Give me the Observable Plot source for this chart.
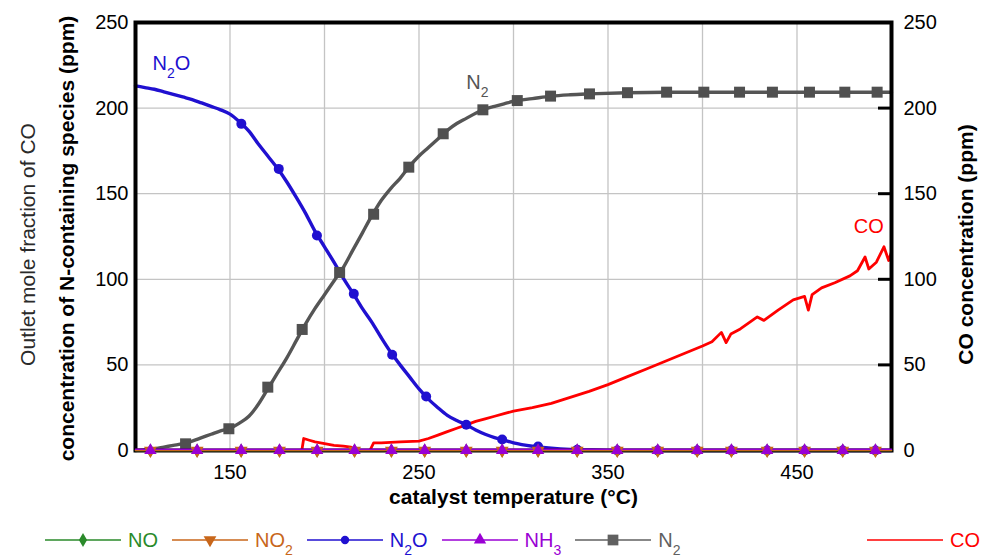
<!DOCTYPE html>
<html>
<head>
<meta charset="utf-8">
<script src="https://cdn.jsdelivr.net/npm/d3@7"></script>
<script src="https://cdn.jsdelivr.net/npm/@observablehq/plot@0.6"></script>
<style>
  html, body { margin: 0; padding: 0; background: #fff; }
  body { font-family: "Liberation Sans", Arial, sans-serif; }
  #wrap { position: relative; width: 994px; height: 558px; overflow: hidden; background: #fff; }
  #legend { position: absolute; left: 0; top: 522px; width: 994px; height: 36px;
            display: flex; align-items: center; box-sizing: border-box; padding-left: 45px; padding-right: 14px; }
  .item { display: flex; align-items: center; font-size: 20px; line-height: 20px; margin-right: 14px; }
  .item.last { margin-left: auto; margin-right: 0; }
  .item svg { display: block; margin-right: 7px; }
  .item sub { font-size: 14px; vertical-align: -8px; line-height: 0; }
</style>
</head>
<body>
<div id="wrap"><div id="chart"></div><div id="legend"></div></div>
<script>
// ---------------- data ----------------
// N2O concentration (ppm) vs catalyst temperature (°C)
const n2oTemp = [100,105,110,115,120,125,130,135,140,145,150,155,160,165,170,175,180,185,190,195,200,205,210,215,220,225,230,235,240,245,250,255,260,265,270,275,280,285,290,295,300,310,320,330,340,350,400,450,500];
const n2oPpm  = [213,212,211,209.5,208,206.5,205,203,201,199,196.5,192,186.5,179,172,165,157,148,138.5,128,119,110,100.5,92,83,75,66,57.5,50,43,36,30,25,20.5,17.5,15,12,9.5,7.5,6,4.5,2.5,1.3,0.6,0.3,0.1,0,0,0];
const n2oMarkTemp = [156,175.8,196,215.5,235.8,253.8,275,294,313,333.7,354.9,376.3,397.2,415.3,434.2,454,474.2,491.5];
const n2oMarkPpm  = [190.8,164.5,125.6,91.5,55.9,31.5,15,6.4,2.3,0.4,0,0,0,0,0,0,0,0];

// N2 concentration (ppm)
const n2Temp = [100,105,110,115,120,125,130,135,140,145,150,155,160,165,170,175,180,185,190,195,200,205,210,215,220,225,230,235,240,245,250,255,260,265,270,275,280,285,290,295,300,310,320,330,340,360,380,400,450,500];
const n2Ppm  = [0,0.5,1,2,3,4,5.5,7.5,9.5,11.5,13,16,20,27,36,45,54,64,74,83,91,99,107,117,127,137,146,153,159,166,172,177,182,187,191,194,197,199.5,201,202.5,204,205.5,207,207.8,208.3,209,209.3,209.3,209.3,209.3];
const n2MarkTemp = [126.5,149.4,170,188.2,208,226,244.6,262.8,283.8,302,319.6,340.2,360.3,381,400.7,419.6,437,456.6,475.3,492.4];
const n2MarkPpm  = [3.9,12.7,37,70.7,104,138,165.5,185,199,204.4,207,208.3,209,209.3,209.3,209.3,209.3,209.3,209.3,209.3];

// CO concentration (ppm, right axis)
const coTemp = [188,189,192,195,200,205,210,214,216,224,226,230,240,250,255,260,265,270,275,280,285,290,295,300,310,320,330,340,350,360,370,380,390,400,405,410,412.5,415,420,429,432.5,440,448,454,456,458,463,470,478,482,486,488,492,496,498.5,500];
const coPpm  = [0,7,6,5,4,3,2.5,2,0,0,4.5,4.5,5,5.5,7,9,11,13,15,17,18.5,20,21.5,23,25,27.5,31,34.5,38.5,43,47.5,52,56.5,61,63.5,69,63,68,71,78,76,82,88,90,82,91,95,98,102,105,113,106,110,119,111,116];

// NO, NO2, NH3 (all near zero)
const lowLineTemp = [100,500];
const noLinePpm  = [0,0];
const no2LinePpm = [0,0];
const nh3LinePpm = [0.8,0.8];
const lowMarkTemp = [107.9,132.6,155.9,176.2,196.1,215.9,235.4,253,275,294,313,333.7,354.9,376.3,397.2,415.3,434.2,454,474.2,491.5];
const noMarkPpm  = [0,0,0,0,0,0,0,0,0,0,0,0,0,0,0,0,0,0,0,0];
const no2MarkPpm = [0,0,0,0,0,0,0,0,0,0,0,0,0,0,0,0,0,0,0,0];
const nh3MarkPpm = [0,0,0,0,0,0,0,0,0,0,0,0,0,0,0,0,0,0,0,0];

// axes
const xDomain = [100,500];
const yDomain = [0,250];
const xTickValues = [150,250,350,450];
const xGridValues = [150,200,250,300,350,400,450];
const yTickValues = [0,50,100,150,200,250];
const yGridValues = [50,100,150,200];

// text
const xTitle = "catalyst temperature (°C)";
const yLeftTitle = "concentration of N-containing species (ppm)";
const yLeftOuterTitle = "Outlet mole fraction of CO";
const yRightTitle = "CO concentration (ppm)";

// in-plot series labels
const annoLabel = ["N₂O","N₂","CO"];
const annoTemp  = [109,275,480];
const annoPpm   = [226,215,130.5];

// legend entries
const legendNames = ["NO","NO₂","N₂O","NH₃","N₂","CO"];

// ---------------- styling ----------------
const C = {NO:"#2a8a2a", NO2:"#c8661a", N2O:"#2010d0", NH3:"#9a00d4", N2:"#555555", CO:"#ff0000"};
const annoColor = [C.N2O, "#555555", C.CO];

const rows = (xs, ys) => xs.map((t, i) => ({t, v: ys[i]}));
const n2oLine = rows(n2oTemp, n2oPpm), n2oMarks = rows(n2oMarkTemp, n2oMarkPpm);
const n2Line = rows(n2Temp, n2Ppm), n2Marks = rows(n2MarkTemp, n2MarkPpm);
const coLine = rows(coTemp, coPpm);
const noLine = rows(lowLineTemp, noLinePpm), no2Line = rows(lowLineTemp, no2LinePpm), nh3Line = rows(lowLineTemp, nh3LinePpm);
const noMarks = rows(lowMarkTemp, noMarkPpm), no2Marks = rows(lowMarkTemp, no2MarkPpm), nh3Marks = rows(lowMarkTemp, nh3MarkPpm);
const annos = annoLabel.map((s, i) => ({s, t: annoTemp[i], v: annoPpm[i], c: annoColor[i]}));

const W = 994, H = 522, ML = 135, MR = 103, MT = 22, MB = 72;
const innerW = W - ML - MR;

const chart = Plot.plot({
  width: W, height: H,
  marginLeft: ML, marginRight: MR, marginTop: MT, marginBottom: MB,
  style: {fontFamily: "'Liberation Sans', Arial, sans-serif", background: "#fff", color: "#000", overflow: "visible"},
  x: {domain: xDomain},
  y: {domain: yDomain},
  marks: [
    Plot.ruleX(xGridValues, {stroke: "#c4c4c4", strokeWidth: 1.3}),
    Plot.ruleY(yGridValues, {stroke: "#c4c4c4", strokeWidth: 1.3}),
    Plot.ruleY(yGridValues, {stroke: "#000", strokeWidth: 3, insetLeft: innerW - 13}),
    Plot.line(coLine, {x: "t", y: "v", stroke: C.CO, strokeWidth: 2.8}),
    Plot.line(n2oLine, {x: "t", y: "v", stroke: C.N2O, strokeWidth: 3.4, curve: "monotone-x"}),
    Plot.dot(n2oMarks, {x: "t", y: "v", symbol: "circle", r: 5, fill: C.N2O}),
    Plot.line(n2Line, {x: "t", y: "v", stroke: C.N2, strokeWidth: 3.4, curve: "monotone-x"}),
    Plot.dot(n2Marks, {x: "t", y: "v", symbol: "square", r: 6.2, fill: "#505050"}),
    Plot.frame({stroke: "#000", strokeWidth: 4}),
    Plot.line(noLine, {x: "t", y: "v", stroke: C.NO, strokeWidth: 1.5}),
    Plot.line(no2Line, {x: "t", y: "v", stroke: C.NO2, strokeWidth: 1.5}),
    Plot.line(nh3Line, {x: "t", y: "v", stroke: C.NH3, strokeWidth: 1.5}),
    Plot.dot(noMarks, {x: "t", y: "v", symbol: "diamond", r: 4.3, fill: C.NO}),
    Plot.dot(no2Marks, {x: "t", y: "v", symbol: "triangle", r: 4.8, rotate: 180, fill: C.NO2}),
    Plot.dot(nh3Marks, {x: "t", y: "v", symbol: "triangle", r: 4.6, fill: C.NH3}),
    Plot.text(annos, {x: "t", y: "v", text: "s", fill: "c", textAnchor: "start", fontSize: 20}),
    Plot.axisX({ticks: xTickValues, tickSize: 0, tickPadding: 14, fontSize: 20, label: null}),
    Plot.axisY({anchor: "left", ticks: yTickValues, tickSize: 0, tickPadding: 7, fontSize: 20, label: null}),
    Plot.axisY({anchor: "right", ticks: yTickValues, tickSize: 0, tickPadding: 12, fontSize: 20, label: null}),
    Plot.text([xTitle], {text: d => d, frameAnchor: "bottom", lineAnchor: "middle", textAnchor: "middle", dy: 47, fontSize: 21, fontWeight: "bold"}),
    Plot.text([yLeftTitle], {text: d => d, frameAnchor: "left", textAnchor: "middle", lineAnchor: "middle", rotate: -90, dx: -68, dy: 2, fontSize: 21, fontWeight: "bold"}),
    Plot.text([yLeftOuterTitle], {text: d => d, frameAnchor: "left", textAnchor: "middle", lineAnchor: "middle", rotate: -90, dx: -107, dy: 8, fontSize: 21, fill: "#2a2a2a"}),
    Plot.text([yRightTitle], {text: d => d, frameAnchor: "right", textAnchor: "middle", lineAnchor: "middle", rotate: -90, dx: 75, dy: 8, fontSize: 21, fontWeight: "bold"})
  ]
});
document.getElementById("chart").appendChild(chart);

// subscripts for chemical formulas inside the SVG
const subMap = {"₂": "2", "₃": "3"};
d3.select(chart).selectAll("text").each(function() {
  const s = this.textContent;
  if (!/[₂₃]/.test(s)) return;
  const el = d3.select(this);
  el.text(null);
  let shifted = false;
  s.split(/([₂₃])/).filter(Boolean).forEach(p => {
    if (subMap[p]) {
      el.append("tspan").attr("font-size", "14px").attr("dy", "8px").text(subMap[p]);
      shifted = true;
    } else {
      const t = el.append("tspan").text(p);
      if (shifted) { t.attr("dy", "-8px"); shifted = false; }
    }
  });
});

// legend (HTML, below the SVG)
const legendColors = [C.NO, C.NO2, C.N2O, C.NH3, "#606060", C.CO];
const legendSymbols = [d3.symbolDiamond, d3.symbolTriangle, d3.symbolCircle, d3.symbolTriangle, d3.symbolSquare, null];
const legendRotate = [0, 180, 0, 0, 0, 0];
const legendSize = [58, 70, 55, 66, 115, 0];
const legend = d3.select("#legend");
legendNames.forEach((name, i) => {
  const item = legend.append("div").attr("class", "item" + (i === legendNames.length - 1 ? " last" : ""));
  const svg = item.append("svg").attr("width", 76).attr("height", 20);
  svg.append("line").attr("x1", 0).attr("x2", 76).attr("y1", 10).attr("y2", 10)
     .attr("stroke", legendColors[i]).attr("stroke-width", 1.5);
  if (legendSymbols[i]) {
    svg.append("path").attr("d", d3.symbol(legendSymbols[i], legendSize[i])())
       .attr("transform", `translate(38,10) rotate(${legendRotate[i]})`)
       .attr("fill", legendColors[i]);
  }
  const html = name.replace(/₂/g, "<sub>2</sub>").replace(/₃/g, "<sub>3</sub>");
  item.append("span").style("color", legendColors[i]).html(html);
});
</script>
</body>
</html>
